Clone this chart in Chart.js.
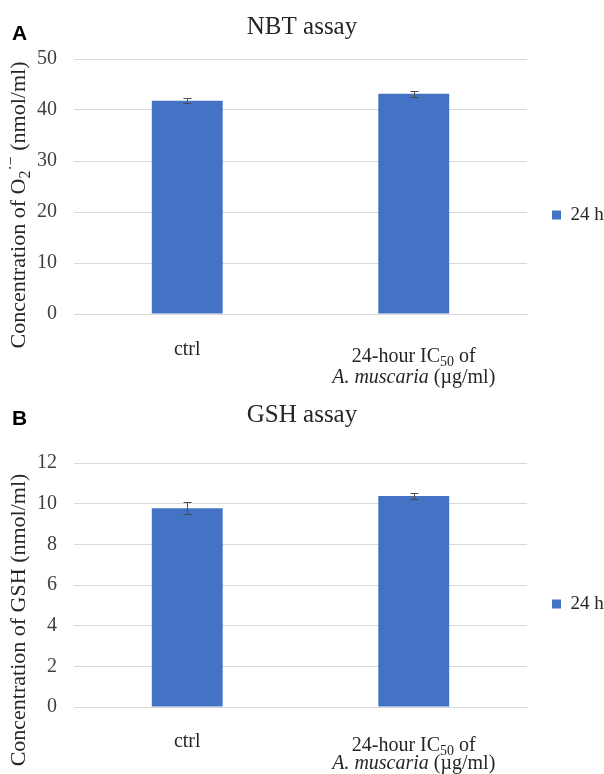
<!DOCTYPE html>
<html><head><meta charset="utf-8">
<script src="https://cdn.jsdelivr.net/npm/chart.js@4.4.0/dist/chart.umd.min.js"></script>
<style>
html,body{margin:0;padding:0;background:#fff;width:604px;height:774px;overflow:hidden}
.wrap{position:absolute;left:0;width:604px}
#wa{top:0;height:392px}
#wb{top:392px;height:382px}
canvas{display:block}
</style></head><body>
<div class="wrap" id="wa"><canvas id="ca" width="604" height="392"></canvas></div>
<div class="wrap" id="wb"><canvas id="cb" width="604" height="382"></canvas></div>
<script>
// ---------- data ----------
const categories = ['ctrl', '24-hour IC_{50} of\n*A. muscaria* (µg/ml)'];
const seriesName = '24 h';
const nbtValues = [41.8, 43.2];
const nbtErrors = [0.5, 0.6];
const gshValues = [9.78, 10.38];
const gshErrors = [0.3, 0.13];
const nbtTicks = [0, 10, 20, 30, 40, 50];
const gshTicks = [0, 2, 4, 6, 8, 10, 12];
const nbtTitle = 'NBT assay';
const gshTitle = 'GSH assay';
const nbtYLabel = 'Concentration of O_{2}^{·−} (nmol/ml)';
const gshYLabel = 'Concentration of GSH (nmol/ml)';

// ---------- helpers ----------
const SERIF = '"Liberation Serif", "Times New Roman", serif';
const TEXT = '#262626';

function parseRich(str){
  const segs = []; let i = 0, italic = false, buf = '';
  const push = (t, mode) => { if (t) segs.push({t, mode, italic}); };
  while (i < str.length){
    const c = str[i];
    if ((c === '_' || c === '^') && str[i+1] === '{'){
      push(buf, 'n'); buf = '';
      const j = str.indexOf('}', i);
      push(str.slice(i+2, j), c === '_' ? 'sub' : 'sup');
      i = j + 1; continue;
    }
    if (c === '*'){ push(buf, 'n'); buf = ''; italic = !italic; i++; continue; }
    buf += c; i++;
  }
  push(buf, 'n');
  return segs;
}
function richFont(s, size){
  return (s.italic ? 'italic ' : '') + (s.mode === 'n' ? size : Math.round(size*0.72)) + 'px ' + SERIF;
}
// draws centred on x, baseline at y
function drawRich(ctx, str, x, y, size, color){
  const segs = parseRich(str);
  let w = 0;
  segs.forEach(s => { ctx.font = richFont(s, size); s.w = ctx.measureText(s.t).width; w += s.w; });
  let cx = x - w/2;
  ctx.fillStyle = color; ctx.textBaseline = 'alphabetic'; ctx.textAlign = 'left';
  segs.forEach(s => {
    ctx.font = richFont(s, size);
    const dy = s.mode === 'sub' ? size*0.22 : (s.mode === 'sup' ? -size*0.42 : 0);
    ctx.fillText(s.t, cx, y + dy);
    cx += s.w;
  });
}

const deco = {
  id: 'deco',
  beforeLayout(chart, args, o){
    const lg = chart.legend;
    if (lg && !lg._fixedW){
      const origFit = lg.fit;
      lg.fit = function(){ origFit.call(this); this.width = 77; };
      const origDraw = lg.draw;
      lg.draw = function(){
        this.ctx.save(); this.ctx.translate(0, o.legendDy);
        origDraw.call(this);
        this.ctx.restore();
      };
      lg._fixedW = true;
    }
  },
  afterDraw(chart, args, o){
    const ctx = chart.ctx, xs = chart.scales.x, ys = chart.scales.y, ca = chart.chartArea;
    ctx.save();
    // error bars
    const meta = chart.getDatasetMeta(0);
    const data = chart.data.datasets[0].data;
    ctx.strokeStyle = '#4d4d4d'; ctx.lineWidth = 1;
    o.errors.forEach((e, i) => {
      const x = Math.round(meta.data[i].x) + 0.5;
      const yt = Math.round(ys.getPixelForValue(data[i] + e)) + 0.5;
      const yb = Math.round(ys.getPixelForValue(data[i] - e)) + 0.5;
      ctx.beginPath();
      ctx.moveTo(x, yt); ctx.lineTo(x, yb);
      ctx.moveTo(x - 4, yt); ctx.lineTo(x + 4, yt);
      ctx.moveTo(x - 4, yb); ctx.lineTo(x + 4, yb);
      ctx.stroke();
    });
    // category labels
    chart.data.labels.forEach((lab, i) => {
      const x = xs.getPixelForValue(i);
      const lines = lab.split('\n');
      const first = ca.bottom + (lines.length === 1 ? o.singleOff : o.multiOff);
      lines.forEach((ln, k) => drawRich(ctx, ln, x, first + k*o.lineGap, 20, TEXT));
    });
    // y axis title (rotated)
    ctx.translate(18, o.yLabelCenter);
    ctx.rotate(-Math.PI/2);
    drawRich(ctx, o.yLabel, 0, 7, 22, TEXT);
    ctx.setTransform(1,0,0,1,0,0);
    // panel letter
    ctx.font = 'bold 21px "Liberation Sans", Arial, sans-serif';
    ctx.fillStyle = '#000'; ctx.textAlign = 'left'; ctx.textBaseline = 'alphabetic';
    ctx.fillText(o.letter, 12, o.letterY);
    ctx.restore();
  }
};

function makeChart(id, values, errors, ticks, title, yLabel, letter, opts){
  const ymax = ticks[ticks.length - 1];
  return new Chart(document.getElementById(id), {
    type: 'bar',
    data: {
      labels: categories,
      datasets: [{
        label: seriesName,
        data: values,
        backgroundColor: '#4472C4',
        borderWidth: 0,
        categoryPercentage: 1,
        barPercentage: 0.313
      }]
    },
    plugins: [deco],
    options: {
      responsive: false,
      animation: false,
      devicePixelRatio: 1,
      layout: { padding: 0 },
      plugins: {
        title: {
          display: true, text: title, color: TEXT,
          font: { family: SERIF, size: 25, weight: 'normal' },
          padding: opts.titlePad
        },
        legend: {
          display: true, position: 'right',
          labels: {
            boxWidth: 9, boxHeight: 9, padding: 25, color: TEXT,
            font: { family: SERIF, size: 19 }
          }
        },
        tooltip: { enabled: false },
        deco: {
          errors: errors, yLabel: yLabel, yLabelCenter: opts.yLabelCenter,
          letter: letter, letterY: opts.letterY, legendDy: opts.legendDy,
          singleOff: opts.singleOff, multiOff: opts.multiOff, lineGap: opts.lineGap
        }
      },
      scales: {
        x: {
          grid: { display: false, drawTicks: false },
          border: { display: true, color: '#d9d9d9', width: 1 },
          ticks: { display: false },
          afterFit: s => { s.height = opts.xH; }
        },
        y: {
          min: 0, max: ymax,
          grid: { color: '#d9d9d9', drawTicks: false },
          border: { display: false },
          ticks: { color: '#404040', padding: 17, font: { family: SERIF, size: 20 } },
          afterBuildTicks: s => { s.ticks = ticks.map(v => ({ value: v })); },
          afterFit: s => { s.width = 74; }
        }
      }
    }
  });
}

makeChart('ca', nbtValues, nbtErrors, nbtTicks, nbtTitle, nbtYLabel, 'A',
  { titlePad: { top: 12, bottom: 17 }, xH: 78, yLabelCenter: 205, letterY: 40, legendDy: 19,
    singleOff: 41, multiOff: 48, lineGap: 21 });
makeChart('cb', gshValues, gshErrors, gshTicks, gshTitle, gshYLabel, 'B',
  { titlePad: { top: 8, bottom: 33 }, xH: 67, yLabelCenter: 228, letterY: 33, legendDy: 21,
    singleOff: 40, multiOff: 44, lineGap: 18 });
</script>
</body></html>
